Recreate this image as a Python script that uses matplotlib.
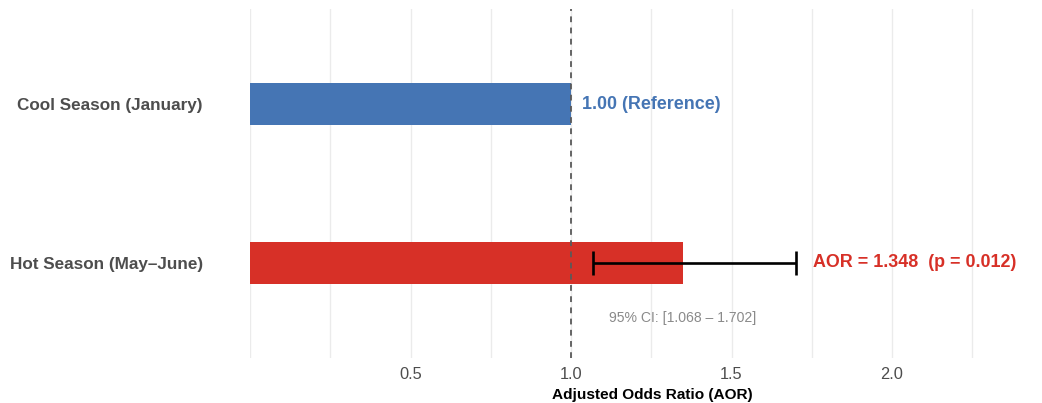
import matplotlib
matplotlib.use("Agg")
import matplotlib.pyplot as plt
import numpy as np

plt.rcParams['font.family'] = ['Liberation Sans', 'DejaVu Sans']

# Data
seasons = ["Hot Season (May\u2013June)", "Cool Season (January)"]
aor = [1.348, 1.00]
ci_low = [1.068]
ci_high = [1.702]
p_value = 0.012
bar_colors = ["#D73027", "#4575B4"]
x_ticks = [0.5, 1.0, 1.5, 2.0]
x_tick_labels = ["0.5", "1.0", "1.5", "2.0"]

W, H = 1042, 403
fig = plt.figure(figsize=(W / 100, H / 100), dpi=100)
left_px, right_px, top_px, bottom_px = 250, 1042, 9, 358
ax = fig.add_axes([left_px / W, 1 - bottom_px / H,
                   (right_px - left_px) / W, (bottom_px - top_px) / H])

px_per_unit = 321.0
ax.set_xlim(0, (right_px - left_px) / px_per_unit)
ax.set_ylim(0.4, 2.6)

# Grid lines (major and minor)
for gx in np.arange(0, 2.5, 0.25):
    ax.axvline(gx, color="#EBEBEB", lw=1.0, zorder=0)

ypos = np.arange(1, len(seasons) + 1)
ax.barh(ypos, aor, height=0.265, color=bar_colors, zorder=2)

# Reference line
ax.axvline(1.0, color="#595959", lw=1.3, dashes=(3.2, 3.0), zorder=3)

# Confidence interval for the hot season
ax.errorbar(aor[0], ypos[0], xerr=[[aor[0] - ci_low[0]], [ci_high[0] - aor[0]]],
            fmt="none", ecolor="black", elinewidth=1.9, capsize=8.3,
            capthick=1.9, zorder=4)

ax.text(ci_high[0] + 0.052, ypos[0], f"AOR = {aor[0]:.3f}  (p = {p_value:.3f})",
        color=bar_colors[0], fontsize=12.9, fontweight="bold",
        ha="left", va="center", zorder=5)
ax.text(aor[1] + 0.033, ypos[1], f"{aor[1]:.2f} (Reference)",
        color=bar_colors[1], fontsize=12.9, fontweight="bold",
        ha="left", va="center", zorder=5)
ax.text(aor[0], ypos[0] - 0.35, f"95% CI: [{ci_low[0]:.3f} \u2013 {ci_high[0]:.3f}]",
        color="#8A8A8A", fontsize=10.1, ha="center", va="center", zorder=5)

ax.set_xticks(x_ticks)
ax.set_xticklabels(x_tick_labels, color="#4D4D4D", fontsize=11.8)
ax.set_yticks(ypos)
ax.set_yticklabels(seasons, color="#4D4D4D", fontsize=12.3, fontweight="bold")
ax.tick_params(axis="x", length=0, pad=6.5)
ax.tick_params(axis="y", length=0, pad=34)

ax.set_xlabel("Adjusted Odds Ratio (AOR)", fontsize=11.1, fontweight="bold",
              color="black")
ax.xaxis.set_label_coords((652 - left_px) / (right_px - left_px), -0.087)

for s in ax.spines.values():
    s.set_visible(False)

fig.savefig("out.png", dpi=100)
